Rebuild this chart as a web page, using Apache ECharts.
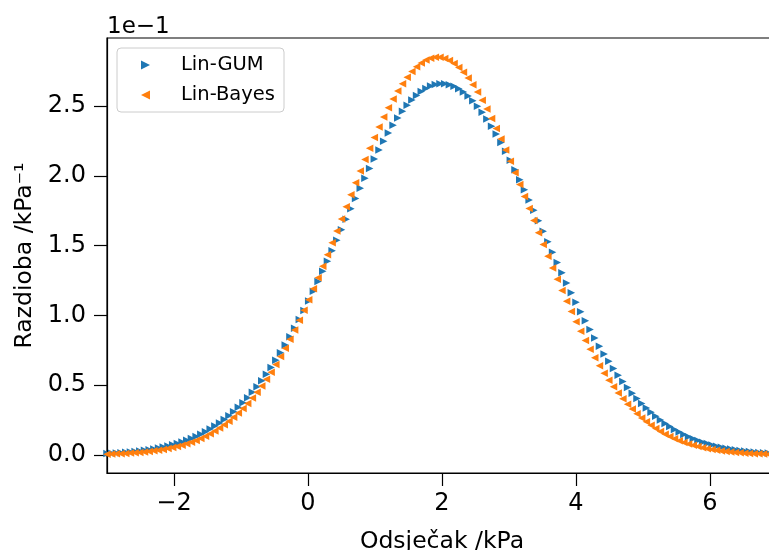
<!DOCTYPE html>
<html>
<head>
<meta charset="utf-8">
<script src="https://cdn.jsdelivr.net/npm/echarts@6/dist/echarts.min.js"></script>
<style>html,body{margin:0;padding:0;background:#fff}#c{width:769px;height:550px}</style>
</head>
<body>
<div id="c"></div>
<script>
// x grid (kPa)
const xValues = [-3.00,-2.93,-2.86,-2.79,-2.72,-2.65,-2.58,-2.51,-2.44,-2.37,
-2.30,-2.23,-2.16,-2.09,-2.02,-1.95,-1.88,-1.81,-1.74,-1.67,
-1.60,-1.53,-1.46,-1.39,-1.32,-1.25,-1.18,-1.11,-1.04,-0.97,
-0.90,-0.83,-0.76,-0.69,-0.62,-0.55,-0.48,-0.41,-0.34,-0.27,
-0.20,-0.13,-0.06,0.01,0.08,0.15,0.22,0.29,0.36,0.43,
0.50,0.57,0.64,0.71,0.78,0.85,0.92,0.99,1.06,1.13,
1.20,1.27,1.34,1.41,1.48,1.55,1.62,1.69,1.76,1.83,
1.90,1.97,2.04,2.11,2.18,2.25,2.32,2.39,2.46,2.53,
2.60,2.67,2.74,2.81,2.88,2.95,3.02,3.09,3.16,3.23,
3.30,3.37,3.44,3.51,3.58,3.65,3.72,3.79,3.86,3.93,
4.00,4.07,4.14,4.21,4.28,4.35,4.42,4.49,4.56,4.63,
4.70,4.77,4.84,4.91,4.98,5.05,5.12,5.19,5.26,5.33,
5.40,5.47,5.54,5.61,5.68,5.75,5.82,5.89,5.96,6.03,
6.10,6.17,6.24,6.31,6.38,6.45,6.52,6.59,6.66,6.73,
6.80,6.87,6.94];

// Lin-GUM density (1/kPa)
const linGUM = [0.00103,0.00120,0.00140,0.00162,0.00188,0.00218,0.00251,0.00290,0.00333,0.00382,
0.00437,0.00499,0.00568,0.00646,0.00733,0.00830,0.00938,0.01057,0.01188,0.01333,
0.01493,0.01668,0.01860,0.02069,0.02296,0.02543,0.02811,0.03099,0.03411,0.03745,
0.04103,0.04486,0.04894,0.05327,0.05786,0.06270,0.06780,0.07316,0.07878,0.08463,
0.09072,0.09705,0.10358,0.11031,0.11723,0.12431,0.13153,0.13887,0.14630,0.15379,
0.16131,0.16884,0.17633,0.18374,0.19105,0.19823,0.20523,0.21201,0.21854,0.22478,
0.23071,0.23626,0.24142,0.24615,0.25045,0.25426,0.25756,0.26034,0.26258,0.26426,
0.26537,0.26591,0.26586,0.26524,0.26405,0.26229,0.25998,0.25712,0.25375,0.24987,
0.24551,0.24071,0.23549,0.22988,0.22391,0.21762,0.21107,0.20425,0.19723,0.19002,
0.18269,0.17525,0.16776,0.16024,0.15271,0.14523,0.13783,0.13050,0.12329,0.11622,
0.10934,0.10263,0.09613,0.08983,0.08378,0.07796,0.07238,0.06706,0.06198,0.05718,
0.05263,0.04834,0.04430,0.04051,0.03696,0.03365,0.03057,0.02771,0.02507,0.02262,
0.02037,0.01831,0.01642,0.01469,0.01311,0.01169,0.01039,0.00921,0.00815,0.00720,
0.00635,0.00558,0.00490,0.00429,0.00374,0.00326,0.00284,0.00246,0.00213,0.00184,
0.00159,0.00137,0.00117];

// Lin-Bayes density (1/kPa)
const linBayes = [0.00058,0.00069,0.00082,0.00097,0.00115,0.00135,0.00159,0.00187,0.00218,0.00255,
0.00297,0.00345,0.00399,0.00462,0.00532,0.00612,0.00702,0.00804,0.00917,0.01045,
0.01186,0.01344,0.01519,0.01713,0.01926,0.02160,0.02417,0.02697,0.03003,0.03335,
0.03694,0.04082,0.04499,0.04946,0.05425,0.05934,0.06476,0.07050,0.07654,0.08290,
0.08956,0.09652,0.10377,0.11127,0.11902,0.12698,0.13516,0.14349,0.15195,0.16051,
0.16913,0.17778,0.18639,0.19493,0.20336,0.21161,0.21968,0.22745,0.23492,0.24203,
0.24875,0.25500,0.26075,0.26596,0.27061,0.27465,0.27806,0.28081,0.28287,0.28423,
0.28489,0.28484,0.28408,0.28261,0.28046,0.27761,0.27411,0.26999,0.26525,0.25996,
0.25413,0.24781,0.24104,0.23388,0.22636,0.21853,0.21045,0.20216,0.19372,0.18516,
0.17654,0.16790,0.15928,0.15073,0.14229,0.13398,0.12584,0.11790,0.11018,0.10271,
0.09551,0.08860,0.08198,0.07566,0.06966,0.06397,0.05860,0.05354,0.04880,0.04437,
0.04024,0.03641,0.03286,0.02958,0.02656,0.02379,0.02125,0.01894,0.01684,0.01493,
0.01321,0.01165,0.01026,0.00900,0.00789,0.00689,0.00600,0.00522,0.00452,0.00391,
0.00338,0.00290,0.00249,0.00213,0.00182,0.00155,0.00132,0.00112,0.00095,0.00080,
0.00067,0.00056,0.00047];

const seriesNames = ['Lin-GUM', 'Lin-Bayes'];
const xTicks = [-2, 0, 2, 4, 6];
const yTicks = [0, 0.05, 0.10, 0.15, 0.20, 0.25];
const xAxisTitle = 'Odsječak /kPa';
const yAxisTitle = 'Razdioba /kPa⁻¹';
const offsetText = '1e−1';

const FONT = 'DejaVu Sans';
const ICON_RIGHT = 'path://M0,0 L10,5 L0,10 Z';
const ICON_LEFT = 'path://M10,0 L0,5 L10,10 Z';
const chart = echarts.init(document.getElementById('c'), null, {renderer: 'canvas'});

function pairs(xs, ys) { return xs.map((x, i) => [x, ys[i]]); }

chart.setOption({
  animation: false,
  backgroundColor: '#ffffff',
  textStyle: {fontFamily: FONT, color: '#000'},
  grid: {left: 107, top: 38, width: 670, height: 435, outerBoundsMode: 'none', containLabel: false,
    show: true, borderColor: '#000', borderWidth: 1.2, backgroundColor: 'transparent'},
  xAxis: {
    type: 'value', min: -3, max: 7,
    name: xAxisTitle, nameLocation: 'middle', nameGap: 57,
    nameTextStyle: {fontFamily: FONT, fontSize: 23.5, color: '#000'},
    axisLine: {show: true, onZero: false, lineStyle: {color: '#000', width: 1.2}},
    axisTick: {show: true, length: 13, customValues: xTicks, lineStyle: {color: '#000', width: 1.2}},
    axisLabel: {customValues: xTicks, margin: 19, fontFamily: FONT, fontSize: 24, color: '#000',
      formatter: v => (v < 0 ? '−' + Math.abs(v) : String(v))},
    splitLine: {show: false}
  },
  yAxis: {
    type: 'value', min: -0.0129, max: 0.2987,
    name: yAxisTitle, nameLocation: 'middle', nameGap: 68, nameRotate: 90,
    nameTextStyle: {fontFamily: FONT, fontSize: 23.5, color: '#000'},
    axisLine: {show: true, onZero: false, lineStyle: {color: '#000', width: 1.2}},
    axisTick: {show: true, length: 13, customValues: yTicks, lineStyle: {color: '#000', width: 1.2}},
    axisLabel: {customValues: yTicks, margin: 21, fontFamily: FONT, fontSize: 24, color: '#000',
      formatter: v => (v * 10).toFixed(1)},
    splitLine: {show: false}
  },
  legend: {
    show: true, orient: 'vertical', left: 117, top: 48,
    padding: [7, 9, 7, 24], itemGap: 10, itemWidth: 9, itemHeight: 9,
    borderColor: '#cccccc', borderWidth: 1, borderRadius: 4,
    backgroundColor: 'rgba(255,255,255,0.8)',
    textStyle: {fontFamily: FONT, fontSize: 19.5, color: '#000', padding: [0, 0, 0, 26]},
    data: [{name: seriesNames[0], icon: ICON_RIGHT}, {name: seriesNames[1], icon: ICON_LEFT}]
  },
  graphic: [{
    type: 'text', left: 107, top: 16,
    style: {text: offsetText, font: '23px "DejaVu Sans"', fill: '#000'}
  }],
  series: [
    {name: seriesNames[0], type: 'scatter', data: pairs(xValues, linGUM),
     symbol: 'triangle', symbolSize: 7.5, symbolRotate: -90,
     itemStyle: {color: '#1f77b4', opacity: 1}, clip: true},
    {name: seriesNames[1], type: 'scatter', data: pairs(xValues, linBayes),
     symbol: 'triangle', symbolSize: 7.5, symbolRotate: 90,
     itemStyle: {color: '#ff7f0e', opacity: 1}, clip: true}
  ]
});
</script>
</body>
</html>
